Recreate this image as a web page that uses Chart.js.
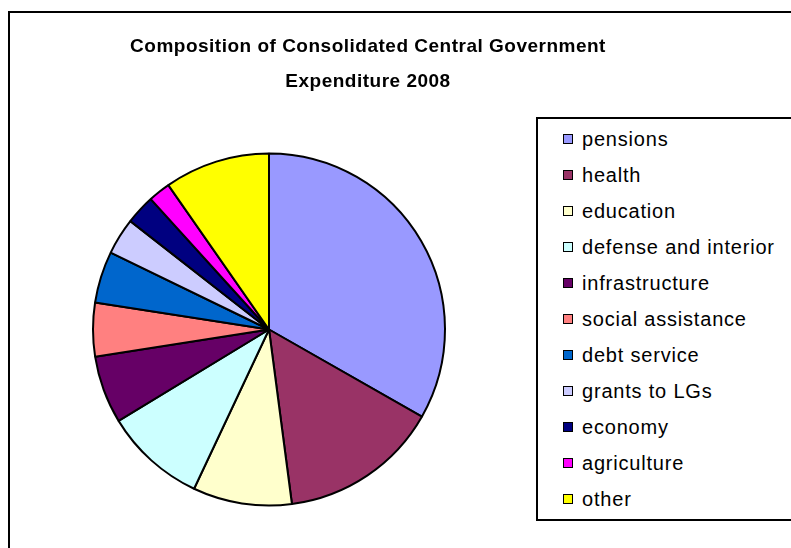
<!DOCTYPE html>
<html>
<head>
<meta charset="utf-8">
<script src="https://cdn.jsdelivr.net/npm/chart.js@4/dist/chart.umd.min.js"></script>
<style>
 body{margin:0;background:#fff;width:791px;height:548px;overflow:hidden;position:relative;font-family:"Liberation Sans",Arial,sans-serif;}
 #frame{position:absolute;left:8px;top:11px;width:820px;height:580px;border:2px solid #000;}
 #chart{position:absolute;left:0;top:0;}
 #title{position:absolute;left:68px;width:600px;top:28px;text-align:center;font-weight:bold;font-size:19px;letter-spacing:0.5px;line-height:35px;color:#000;}
 #legend{position:absolute;left:536px;top:117px;width:300px;height:400px;border:2px solid #000;background:#fff;}
 #legend div{position:absolute;left:25px;height:36px;line-height:36px;font-size:20px;letter-spacing:0.8px;color:#000;white-space:nowrap;}
 #legend span{display:inline-block;width:8px;height:8px;border:1.5px solid #000;margin-right:9px;vertical-align:middle;position:relative;top:-2px;}
</style>
</head>
<body>
<div id="frame"></div>
<canvas id="chart" width="791" height="548"></canvas>
<div id="title">Composition of Consolidated Central Government<br>Expenditure 2008</div>
<div id="legend"></div>
<script>
// spending shares, % of total
const categories=["pensions","health","education","defense and interior","infrastructure","social assistance","debt service","grants to LGs","economy","agriculture","other"];
const shares=[33.25,14.67,9.08,9.31,6.22,4.92,4.75,3.36,2.72,2.03,9.69];
const colors=["#9999FF","#993366","#FFFFCC","#CCFFFF","#660066","#FF8080","#0066CC","#CCCCFF","#000080","#FF00FF","#FFFF00"];

document.addEventListener("DOMContentLoaded",()=>{
 let leg=document.getElementById("legend");
 categories.forEach((name,i)=>{
  let d=document.createElement("div");
  d.style.top=(2+i*36)+"px";
  let sw=document.createElement("span");
  sw.style.background=colors[i];
  d.appendChild(sw);
  d.appendChild(document.createTextNode(name));
  leg.appendChild(d);
 });

 new Chart(document.getElementById("chart"),{
  type:"pie",
  data:{labels:categories,datasets:[{data:shares,backgroundColor:colors,borderColor:"#000",borderWidth:2,radius:176}]},
  options:{
   responsive:false,
   animation:false,
   layout:{padding:{left:80,right:333,top:140,bottom:29}},
   plugins:{legend:{display:false},title:{display:false},tooltip:{enabled:false}}
  }
 });
});
</script>
</body>
</html>
